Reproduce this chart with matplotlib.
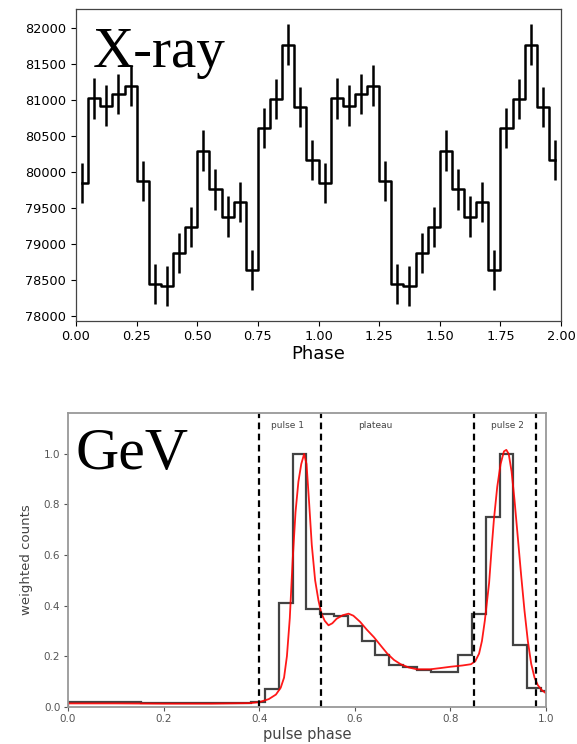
import numpy as np
import matplotlib.pyplot as plt

# X-ray folded light curve (20 bins per cycle, shown twice)
xray_counts = [79840, 81020, 80920, 81080, 81200, 79870, 78435, 78410, 78870, 79235,
               80290, 79755, 79375, 79580, 78640, 80610, 81010, 81770, 80900, 80160]
xray_err = [280, 282, 282, 282, 280, 282, 278, 278, 282, 282,
            285, 282, 282, 280, 280, 282, 280, 285, 282, 280]
xray_ticks = [0.0, 0.25, 0.5, 0.75, 1.0, 1.25, 1.5, 1.75, 2.0]

# GeV pulse profile histogram
gev_edges = np.concatenate([[0.0], np.linspace(0.0364, 1.0186, 35)])
gev_counts = [0.020, 0.019, 0.018, 0.017, 0.017, 0.016, 0.015, 0.015, 0.014, 0.014,
              0.014, 0.014, 0.015, 0.017, 0.070, 0.410, 1.000, 0.388, 0.365, 0.360,
              0.320, 0.258, 0.206, 0.165, 0.156, 0.146, 0.136, 0.137, 0.206, 0.365,
              0.750, 1.000, 0.246, 0.072, 0.062]

# smooth model curve (red)
model_phase = [0.0, 0.1, 0.2, 0.3, 0.38, 0.40, 0.42, 0.435, 0.445, 0.452, 0.458, 0.464,
               0.470, 0.476, 0.482, 0.488, 0.494, 0.499, 0.504, 0.510, 0.517, 0.524,
               0.530, 0.537, 0.545, 0.553, 0.562, 0.575, 0.587, 0.597, 0.611, 0.625,
               0.640, 0.655, 0.668, 0.682, 0.696, 0.713, 0.730, 0.758, 0.780, 0.800,
               0.825, 0.843, 0.852, 0.860, 0.866, 0.872, 0.881, 0.886, 0.891, 0.898,
               0.905, 0.912, 0.917, 0.922, 0.928, 0.934, 0.941, 0.948, 0.955, 0.962,
               0.969, 0.976, 0.983, 0.991, 1.0]
model_value = [0.013, 0.013, 0.012, 0.012, 0.014, 0.018, 0.030, 0.048, 0.075, 0.115, 0.200, 0.350,
               0.580, 0.770, 0.890, 0.960, 1.000, 0.960, 0.820, 0.640, 0.500, 0.420,
               0.370, 0.340, 0.322, 0.330, 0.348, 0.362, 0.368, 0.360, 0.336, 0.305,
               0.275, 0.240, 0.210, 0.185, 0.168, 0.155, 0.148, 0.148, 0.153, 0.158,
               0.163, 0.168, 0.180, 0.210, 0.260, 0.340, 0.490, 0.620, 0.740, 0.870,
               0.960, 1.010, 1.016, 1.000, 0.930, 0.820, 0.670, 0.520, 0.380, 0.260,
               0.170, 0.115, 0.085, 0.066, 0.053]

region_lines = [0.40, 0.53, 0.85, 0.98]
region_names = ['pulse 1', 'plateau', 'pulse 2']
region_pos = [0.46, 0.643, 0.92]

fig = plt.figure(figsize=(5.77, 7.44), dpi=100)

# ---- top panel: X-ray ----
ax1 = fig.add_axes([76/577, 1 - 320.7/744, 485/577, 311.4/744])
phase = np.arange(40) * 0.05 + 0.025
ax1.errorbar(phase, np.tile(xray_counts, 2), yerr=np.tile(xray_err, 2),
             drawstyle='steps-mid', color='k', lw=1.8, elinewidth=1.8, capsize=0)
ax1.set_xlim(0, 2)
ax1.set_ylim(77930, 82260)
ax1.set_xticks(xray_ticks)
ax1.set_xticklabels(['%.2f' % t for t in xray_ticks])
ax1.set_yticks(np.arange(78000, 82001, 500))
ax1.tick_params(labelsize=9.3, length=3.5, width=0.8)
for s in ax1.spines.values():
    s.set_color('#444')
    s.set_linewidth(0.9)
ax1.set_xlabel('Phase', fontsize=13, labelpad=1)
ax1.text(0.035, 0.815, 'X-ray', transform=ax1.transAxes, va='baseline',
         fontsize=41, family='Liberation Serif')

# ---- bottom panel: GeV ----
grey = '#555555'
ax2 = fig.add_axes([68/577, 1 - 706.7/744, 478/577, 294/744])
ax2.stairs(gev_counts, gev_edges, color='#222222', lw=1.6, alpha=0.85)
ax2.plot(model_phase, model_value, color='red', lw=1.3, alpha=0.9)
for xv in region_lines:
    ax2.axvline(xv, color='k', ls=(0, (3, 2)), lw=1.6)
for name, xp in zip(region_names, region_pos):
    ax2.text(xp, 1.113, name, ha='center', va='center', fontsize=6.5, color='#444')
ax2.set_xlim(0, 1)
ax2.set_ylim(0, 1.163)
ax2.set_xticks([0.0, 0.2, 0.4, 0.6, 0.8, 1.0])
ax2.set_yticks([0.0, 0.2, 0.4, 0.6, 0.8, 1.0])
ax2.tick_params(labelsize=7.5, length=3, width=0.8, colors=grey, pad=2.5)
for s in ax2.spines.values():
    s.set_color('#999999')
    s.set_linewidth(1.3)
ax2.set_xlabel('pulse phase', fontsize=10.5, color='#444', labelpad=2)
ax2.set_ylabel('weighted counts', fontsize=9.5, color='#444', labelpad=8)
ax2.text(0.016, 0.807, 'GeV', transform=ax2.transAxes, va='baseline',
         fontsize=43, family='Liberation Serif')

fig.savefig('out.png', dpi=100)
